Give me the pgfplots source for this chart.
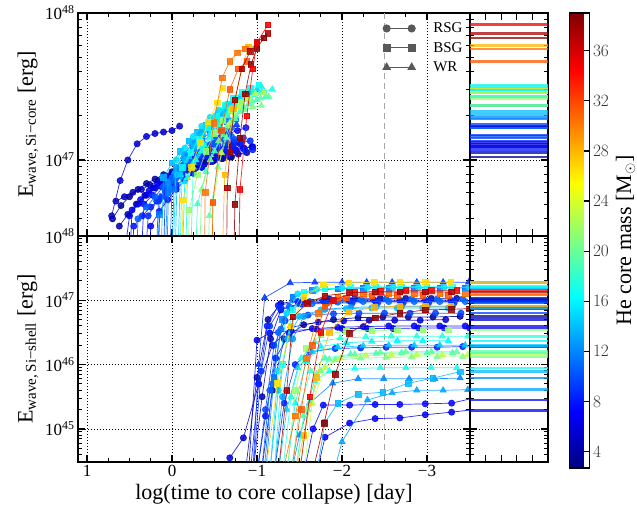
\documentclass[border=0pt]{standalone}
\usepackage{pgfplots}
\pgfplotsset{compat=1.18}
\usepackage{fontspec}
\setmainfont{Liberation Serif}
\newcommand\tickfont{\fontsize{17}{19}\selectfont}
\newcommand\labfont{\fontsize{22}{26}\selectfont}
\newcommand{\defjet}[2]{%
 \pgfmathsetmacro\jv{(#2-2.7)/36.3}%
 \pgfmathsetmacro\jr{max(0,min(1,1.5-abs(4*\jv-3)))}%
 \pgfmathsetmacro\jg{max(0,min(1,1.5-abs(4*\jv-2)))}%
 \pgfmathsetmacro\jb{max(0,min(1,1.5-abs(4*\jv-1)))}%
 \definecolor{#1}{rgb}{\jr,\jg,\jb}}
\defjet{c1}{3.5}\defjet{c2}{4.0}\defjet{c3}{5.5}\defjet{c4}{4.6}\defjet{c5}{6.0}
\defjet{c6}{6.8}\defjet{c7}{7.5}\defjet{c8}{8.5}\defjet{c9}{9.5}\defjet{c10}{10.5}
\defjet{c11}{11.5}\defjet{c12}{12.5}\defjet{c13}{13.0}\defjet{c14}{13.8}\defjet{c15}{14.5}
\defjet{c16}{15.2}\defjet{c17}{16.0}\defjet{c18}{16.8}\defjet{c19}{17.5}\defjet{c20}{18.5}
\defjet{c21}{19.5}\defjet{c22}{20.5}\defjet{c23}{21.5}\defjet{c24}{23.0}\defjet{c25}{26.5}
\defjet{c26}{28.0}\defjet{c27}{30.5}\defjet{c28}{31.5}\defjet{c29}{35.0}\defjet{c30}{37.5}
\defjet{c31}{38.5}\defjet{c32}{7.0}\defjet{c33}{9.0}\defjet{c34}{11.0}\defjet{c35}{14.0}
\defjet{c36}{17.0}\defjet{c37}{8.0}\defjet{c38}{12.0}\defjet{c39}{9.2}
\pgfplotsset{
 frame/.style={scale only axis, anchor=south west, clip marker paths=true,
   axis line style={line width=1.4pt}, tick align=inside,
   major tick length=7pt, minor tick length=4pt,
   major tick style={line width=1.3pt, black}, minor tick style={line width=1pt, black},
   tick label style={font=\tickfont}, label style={font=\labfont},
   major grid style={black, line width=0.7pt, dash pattern=on 1pt off 2pt},
   ymajorgrids},
 mainx/.style={width=392pt, xmin=-3.506, xmax=1.106, x dir=reverse,
   xtick={-3,-2,-1,0,1}, minor x tick num=3, xmajorgrids},
 sidex/.style={width=78pt, xmin=0, xmax=5, xtick={1,2,3,4}, xticklabels={}, yticklabels={}},
 topy/.style={height=223pt, ymin=46.483, ymax=48, ytick={47,48},
   minor ytick={46.602,46.699,46.778,46.845,46.903,46.954,47.301,47.477,47.602,47.699,47.778,47.845,47.903,47.954}},
 boty/.style={height=226pt, ymin=44.485, ymax=48, ytick={45,46,47,48},
   minor ytick={44.602,44.699,44.778,44.845,44.903,44.954,45.301,45.477,45.602,45.699,45.778,45.845,45.903,45.954,46.301,46.477,46.602,46.699,46.778,46.845,46.903,46.954,47.301,47.477,47.602,47.699,47.778,47.845,47.903,47.954}},
 trk/.style={line width=0.7pt, opacity=0.85},
 RSG/.style={trk, mark=*, mark size=3.1pt, mark options={solid, opacity=0.85}},
 BSG/.style={trk, mark=square*, mark size=2.8pt, mark options={solid, opacity=0.85}},
 WR/.style={trk, mark=triangle*, mark size=3.6pt, mark options={solid, opacity=0.85}},
 sl/.style={line width=2.6pt, opacity=0.75},
 vline/.style={black!35, line width=1.1pt, dash pattern=on 6pt off 4pt, forget plot},
}
\begin{document}
\begin{tikzpicture}
\useasboundingbox (0,0) rectangle (637pt,512pt);
% ---------------- top main
\begin{axis}[frame, mainx, topy, at={(78pt,276pt)}, xticklabels={},
  yticklabels={10\textsuperscript{47},10\textsuperscript{48}},
  ylabel={E\textsubscript{\fontsize{15}{16}\selectfont wave,\,Si−core} [erg]},
  legend style={draw=none, fill=none, at={(0.77,0.975)}, anchor=north west,
    font=\fontsize{15}{17}\selectfont, row sep=4pt,
    /tikz/every odd column/.append style={column sep=16pt}},
  legend cell align=left,
  legend image code/.code={\draw[#1] plot coordinates {(0pt,0pt)(25pt,0pt)};}]
\addlegendimage{black!65, line width=0.9pt, mark=*, mark size=3.6pt, mark options={solid}}
\addlegendentry{RSG}
\addlegendimage{black!65, line width=0.9pt, mark=square*, mark size=3.3pt, mark options={solid}}
\addlegendentry{BSG}
\addlegendimage{black!65, line width=0.9pt, mark=triangle*, mark size=4.2pt, mark options={solid}}
\addlegendentry{WR}
\addplot[vline] coordinates {(-2.5,40)(-2.5,50)};
\addplot[RSG,c1] coordinates {(0.70,46.60)(0.60,46.69)(0.50,46.75)(0.40,46.80)(0.30,46.84)(0.20,46.87)(0.10,46.90)(0.00,46.92)(-0.10,46.94)(-0.20,46.96)(-0.30,46.97)(-0.40,46.99)(-0.50,47.00)(-0.60,47.01)(-0.70,47.02)};
\addplot[RSG,c2] coordinates {(0.62,46.55)(0.52,46.63)(0.42,46.70)(0.32,46.76)(0.22,46.81)(0.12,46.85)(0.02,46.88)(-0.08,46.91)(-0.18,46.93)(-0.28,46.95)(-0.38,46.97)(-0.48,46.99)(-0.58,47.01)(-0.68,47.02)(-0.78,47.04)(-0.88,47.05)};
\addplot[RSG,c4] coordinates {(0.66,46.72)(0.56,46.75)(0.46,46.78)(0.36,46.80)(0.26,46.83)(0.16,46.86)(0.06,46.89)(-0.04,46.91)(-0.14,46.94)(-0.24,46.96)(-0.34,46.99)(-0.44,47.01)(-0.54,47.03)(-0.64,47.05)(-0.74,47.07)(-0.84,47.08)(-0.94,47.09)};
\addplot[RSG,c3] coordinates {(0.71,46.62)(0.61,46.86)(0.52,47.00)(0.41,47.11)(0.30,47.16)(0.20,47.18)(0.10,47.19)(0.00,47.20)(-0.09,47.23)};
\addplot[RSG,c5] coordinates {(0.55,46.40)(0.50,46.62)(0.40,46.70)(0.30,46.76)(0.20,46.81)(0.10,46.86)(0.00,46.90)(-0.10,46.94)(-0.20,46.97)(-0.30,47.00)(-0.40,47.03)(-0.50,47.05)(-0.60,47.07)(-0.70,47.09)(-0.80,47.11)};
\addplot[RSG,c6] coordinates {(0.53,45.9)(0.47,46.66)(0.37,46.73)(0.27,46.79)(0.17,46.84)(0.07,46.88)(-0.03,46.92)(-0.13,46.96)(-0.23,47.00)(-0.33,47.03)(-0.43,47.06)(-0.53,47.08)(-0.63,47.10)(-0.73,47.12)};
\addplot[RSG,c32] coordinates {(0.30,45.9)(0.25,46.55)(0.15,46.65)(0.05,46.73)(-0.05,46.80)(-0.15,46.86)(-0.25,46.91)(-0.35,46.95)(-0.45,46.99)(-0.55,47.02)(-0.65,47.05)(-0.75,47.07)(-0.85,47.08)(-0.95,47.09)};
\addplot[RSG,c7] coordinates {(0.40,45.9)(0.33,46.70)(0.23,46.76)(0.13,46.82)(0.03,46.87)(-0.07,46.92)(-0.17,46.97)(-0.27,47.02)(-0.37,47.07)(-0.47,47.11)(-0.57,47.15)(-0.67,47.18)(-0.77,47.20)(-0.87,47.22)};
\addplot[RSG,c37] coordinates {(0.50,45.9)(0.45,46.55)(0.35,46.62)(0.25,46.68)(0.15,46.73)(0.05,46.78)(-0.05,46.83)(-0.15,46.87)(-0.25,46.91)(-0.35,46.95)(-0.45,46.99)(-0.55,47.02)(-0.65,47.04)(-0.75,47.06)(-0.85,47.07)(-0.95,47.07)};
\addplot[RSG,c8] coordinates {(0.35,46.0)(0.28,46.62)(0.18,46.72)(0.08,46.79)(-0.02,46.85)(-0.12,46.90)(-0.22,46.95)(-0.32,46.99)(-0.42,47.03)(-0.52,47.06)(-0.62,47.08)(-0.72,47.10)(-0.82,47.12)(-0.92,47.13)};
\addplot[RSG,c33] coordinates {(0.12,45.9)(0.08,46.75)(-0.02,46.84)(-0.12,46.92)(-0.22,46.99)(-0.32,47.05)(-0.42,47.10)(-0.52,47.14)(-0.62,47.17)};
\addplot[WR,c39] coordinates {(0.18,45.9)(0.14,46.75)(0.04,46.85)(-0.06,46.94)(-0.16,47.02)(-0.26,47.08)(-0.36,47.13)(-0.46,47.17)(-0.56,47.20)(-0.66,47.22)(-0.76,47.24)};
\addplot[RSG,c9] coordinates {(0.22,45.8)(0.16,46.72)(0.06,46.80)(-0.04,46.87)(-0.14,46.93)(-0.24,46.98)(-0.34,47.03)(-0.44,47.07)(-0.54,47.10)(-0.64,47.12)(-0.74,47.14)(-0.84,47.15)};
\addplot[RSG,c10] coordinates {(0.45,45.8)(0.40,46.60)(0.30,46.68)(0.20,46.75)(0.10,46.82)(0.00,46.88)(-0.10,46.94)(-0.20,46.99)(-0.30,47.04)(-0.40,47.08)(-0.50,47.11)(-0.60,47.14)(-0.70,47.16)};
\addplot[RSG,c34] coordinates {(0.05,45.9)(0.00,46.80)(-0.10,46.89)(-0.20,46.97)(-0.30,47.04)(-0.40,47.10)(-0.50,47.15)(-0.60,47.19)(-0.70,47.22)};
\addplot[BSG,c11] coordinates {(0.20,45.9)(0.15,46.63)(0.05,46.78)(-0.05,46.90)(-0.15,47.00)(-0.25,47.08)(-0.35,47.14)(-0.45,47.19)(-0.55,47.23)(-0.65,47.26)(-0.75,47.28)};
\addplot[WR,c38] coordinates {(0.08,45.9)(0.04,46.82)(-0.06,46.93)(-0.16,47.02)(-0.26,47.10)(-0.36,47.17)(-0.46,47.22)(-0.56,47.26)(-0.66,47.29)};
\addplot[RSG,c12] coordinates {(0.10,46.0)(0.05,46.85)(-0.05,46.95)(-0.15,47.04)(-0.25,47.12)(-0.35,47.19)(-0.45,47.25)(-0.55,47.30)(-0.65,47.34)(-0.75,47.37)};
\addplot[WR,c13] coordinates {(0.02,46.0)(-0.03,46.92)(-0.13,47.02)(-0.23,47.11)(-0.33,47.19)(-0.43,47.26)(-0.53,47.32)(-0.63,47.37)(-0.73,47.41)(-0.83,47.44)(-0.93,47.46)};
\addplot[BSG,c14] coordinates {(0.15,46.0)(0.10,46.88)(0.00,46.98)(-0.10,47.06)(-0.20,47.13)(-0.30,47.19)(-0.40,47.24)(-0.50,47.28)(-0.60,47.31)};
\addplot[RSG,c35] coordinates {(-0.02,45.9)(-0.06,46.90)(-0.16,47.00)(-0.26,47.09)(-0.36,47.17)(-0.46,47.24)(-0.56,47.29)(-0.66,47.33)};
\addplot[WR,c15] coordinates {(-0.05,46.0)(-0.10,46.90)(-0.20,47.02)(-0.30,47.12)(-0.40,47.21)(-0.50,47.28)(-0.60,47.34)(-0.70,47.39)(-0.80,47.43)(-0.90,47.46)(-1.00,47.48)};
\addplot[RSG,c16] coordinates {(0.00,46.1)(-0.05,47.00)(-0.15,47.08)(-0.25,47.16)(-0.35,47.23)(-0.45,47.29)(-0.55,47.34)(-0.65,47.38)(-0.75,47.41)(-0.85,47.43)};
\addplot[WR,c17] coordinates {(-0.10,45.9)(-0.15,46.85)(-0.25,46.98)(-0.35,47.09)(-0.45,47.18)(-0.55,47.26)(-0.65,47.33)(-0.75,47.39)(-0.85,47.44)(-0.95,47.47)(-1.05,47.50)};
\addplot[BSG,c18] coordinates {(-0.08,46.0)(-0.12,46.95)(-0.22,47.05)(-0.32,47.14)(-0.42,47.22)(-0.52,47.30)(-0.62,47.37)(-0.72,47.42)(-0.82,47.46)(-0.92,47.49)(-1.02,47.51)};
\addplot[WR,c36] coordinates {(-0.15,45.9)(-0.18,46.88)(-0.28,47.00)(-0.38,47.10)(-0.48,47.19)(-0.58,47.27)(-0.68,47.33)(-0.78,47.38)(-0.88,47.42)(-0.98,47.45)(-1.08,47.47)(-1.18,47.48)};
\addplot[WR,c19] coordinates {(-0.20,45.9)(-0.25,46.95)(-0.35,47.06)(-0.45,47.15)(-0.55,47.23)(-0.65,47.30)(-0.75,47.36)(-0.85,47.41)(-0.95,47.44)(-1.05,47.46)};
\addplot[WR,c20] coordinates {(-0.25,45.9)(-0.30,46.70)(-0.40,46.92)(-0.50,47.06)(-0.60,47.17)(-0.70,47.26)(-0.80,47.33)(-0.90,47.38)(-1.00,47.41)(-1.10,47.43)};
\addplot[WR,c21] coordinates {(-0.40,45.9)(-0.44,46.62)(-0.54,46.95)(-0.64,47.15)(-0.74,47.28)(-0.84,47.36)(-0.94,47.40)(-1.04,47.42)(-1.14,47.43)};
\addplot[WR,c22] coordinates {(-0.30,45.9)(-0.35,46.80)(-0.45,47.00)(-0.55,47.13)(-0.65,47.23)(-0.75,47.30)(-0.85,47.34)(-0.95,47.36)(-1.05,47.37)};
\addplot[BSG,c23] coordinates {(-0.19,45.9)(-0.20,46.66)(-0.30,46.90)(-0.40,47.06)(-0.50,47.18)(-0.60,47.27)(-0.70,47.34)(-0.80,47.39)(-0.90,47.42)};
\addplot[WR,c24] coordinates {(-0.45,45.9)(-0.48,46.70)(-0.58,47.05)(-0.68,47.25)(-0.78,47.36)(-0.88,47.42)(-0.98,47.45)(-1.08,47.46)};
\addplot[BSG,c25] coordinates {(-0.10,45.9)(-0.13,46.73)(-0.23,46.95)(-0.33,47.12)(-0.43,47.26)(-0.53,47.39)(-0.60,47.49)};
\addplot[BSG,c26] coordinates {(-0.55,45.5)(-0.62,46.90)(-0.72,47.35)(-0.82,47.62)(-0.90,47.77)(-1.00,47.78)};
\addplot[BSG,c27] coordinates {(-0.37,45.5)(-0.39,46.78)(-0.49,47.25)(-0.59,47.56)(-0.68,47.67)(-0.77,47.73)(-0.86,47.755)};
\addplot[BSG,c28] coordinates {(-0.46,45.5)(-0.48,46.71)(-0.58,47.20)(-0.68,47.48)(-0.78,47.62)(-0.88,47.67)};
\addplot[BSG,c30] coordinates {(-0.63,45.5)(-0.65,46.81)(-0.68,47.05)(-0.74,47.41)(-0.82,47.62)(-0.92,47.74)(-1.00,47.80)(-1.13,47.86)};
\addplot[BSG,c31] coordinates {(-0.70,45.5)(-0.74,46.70)(-0.80,47.15)(-0.86,47.45)(-0.93,47.65)(-1.00,47.76)(-1.08,47.83)};
\addplot[BSG,c29] coordinates {(-0.76,45.5)(-0.80,46.80)(-0.88,47.30)(-0.95,47.62)(-1.00,47.80)(-1.13,47.92)};
\end{axis}
% ---------------- top side
\begin{axis}[frame, sidex, topy, at={(470pt,276pt)}]
\addplot[sl,c1] coordinates {(0,47.02)(5,47.02)};
\addplot[sl,c2] coordinates {(0,47.05)(5,47.05)};
\addplot[sl,c4] coordinates {(0,47.09)(5,47.09)};
\addplot[sl,c37] coordinates {(0,47.07)(5,47.07)};
\addplot[sl,c32] coordinates {(0,47.09)(5,47.09)};
\addplot[sl,c5] coordinates {(0,47.11)(5,47.11)};
\addplot[sl,c6] coordinates {(0,47.12)(5,47.12)};
\addplot[sl,c8] coordinates {(0,47.13)(5,47.13)};
\addplot[sl,c9] coordinates {(0,47.15)(5,47.15)};
\addplot[sl,c10] coordinates {(0,47.16)(5,47.16)};
\addplot[sl,c33] coordinates {(0,47.17)(5,47.17)};
\addplot[sl,c7] coordinates {(0,47.22)(5,47.22)};
\addplot[sl,c34] coordinates {(0,47.22)(5,47.22)};
\addplot[sl,c3] coordinates {(0,47.23)(5,47.23)};
\addplot[sl,c39] coordinates {(0,47.24)(5,47.24)};
\addplot[sl,c11] coordinates {(0,47.28)(5,47.28)};
\addplot[sl,c38] coordinates {(0,47.29)(5,47.29)};
\addplot[sl,c14] coordinates {(0,47.31)(5,47.31)};
\addplot[sl,c35] coordinates {(0,47.33)(5,47.33)};
\addplot[sl,c12] coordinates {(0,47.37)(5,47.37)};
\addplot[sl,c22] coordinates {(0,47.37)(5,47.37)};
\addplot[sl,c23] coordinates {(0,47.42)(5,47.42)};
\addplot[sl,c16] coordinates {(0,47.43)(5,47.43)};
\addplot[sl,c20] coordinates {(0,47.43)(5,47.43)};
\addplot[sl,c21] coordinates {(0,47.43)(5,47.43)};
\addplot[sl,c13] coordinates {(0,47.46)(5,47.46)};
\addplot[sl,c19] coordinates {(0,47.46)(5,47.46)};
\addplot[sl,c24] coordinates {(0,47.46)(5,47.46)};
\addplot[sl,c15] coordinates {(0,47.48)(5,47.48)};
\addplot[sl,c36] coordinates {(0,47.48)(5,47.48)};
\addplot[sl,c25] coordinates {(0,47.49)(5,47.49)};
\addplot[sl,c17] coordinates {(0,47.50)(5,47.50)};
\addplot[sl,c18] coordinates {(0,47.51)(5,47.51)};
\addplot[sl,c28] coordinates {(0,47.67)(5,47.67)};
\addplot[sl,c27] coordinates {(0,47.755)(5,47.755)};
\addplot[sl,c26] coordinates {(0,47.78)(5,47.78)};
\addplot[sl,c31] coordinates {(0,47.83)(5,47.83)};
\addplot[sl,c30] coordinates {(0,47.86)(5,47.86)};
\addplot[sl,c29] coordinates {(0,47.92)(5,47.92)};
\end{axis}
% ---------------- bottom main
\begin{axis}[frame, mainx, boty, at={(78pt,50pt)},
  xticklabels={−3,−2,−1,0,1},
  yticklabels={10\textsuperscript{45},10\textsuperscript{46},10\textsuperscript{47},10\textsuperscript{48}},
  xlabel={log(time to core collapse) [day]},
  ylabel={E\textsubscript{\fontsize{15}{16}\selectfont wave,\,Si−shell} [erg]}]
\addplot[vline] coordinates {(-2.5,40)(-2.5,50)};
\addplot[RSG,c1] coordinates {(-1.05,44.3)(-1.18,45.6)(-1.32,46.40)(-1.55,46.62)(-1.90,46.70)(-2.19,46.73)(-2.48,46.74)(-2.78,46.74)(-3.07,46.74)(-3.39,46.75)};
\addplot[RSG,c2] coordinates {(-0.86,44.3)(-1.0,45.8)(-1.13,46.70)(-1.28,46.95)(-1.55,47.01)(-1.85,47.02)(-2.15,47.03)(-2.45,47.03)(-2.75,47.03)(-3.05,47.03)(-3.35,47.03)};
\addplot[RSG,c3] coordinates {(-0.68,44.55)(-0.84,44.86)(-1.02,45.70)(-1.18,46.30)(-1.40,46.58)(-1.72,46.66)(-2.02,46.68)(-2.32,46.69)(-2.62,46.69)(-2.92,46.69)(-3.22,46.70)};
\addplot[RSG,c4] coordinates {(-0.95,44.3)(-1.06,45.50)(-1.16,46.40)(-1.28,46.85)(-1.50,46.95)(-1.80,46.97)(-2.10,46.98)(-2.40,46.98)(-2.70,46.98)(-3.00,46.98)(-3.30,46.98)};
\addplot[RSG,c5] coordinates {(-0.90,44.3)(-1.00,46.38)(-1.15,46.49)(-1.40,46.53)(-1.70,46.55)(-2.00,46.56)(-2.30,46.56)(-2.60,46.56)(-2.90,46.57)(-3.20,46.57)(-3.50,46.57)};
\addplot[RSG,c6] coordinates {(-1.70,44.3)(-1.80,44.87)(-2.09,45.09)(-2.39,45.16)(-2.68,45.17)(-2.98,45.22)(-3.29,45.26)(-3.55,45.30)};
\addplot[RSG,c7] coordinates {(-1.55,44.3)(-1.66,45.00)(-1.78,45.37)(-2.09,45.37)(-2.39,45.38)(-2.68,45.38)(-2.98,45.39)(-3.29,45.40)(-3.55,45.48)};
\addplot[RSG,c32] coordinates {(-1.00,44.3)(-1.10,45.20)(-1.22,46.10)(-1.38,46.48)(-1.65,46.56)(-1.95,46.58)(-2.25,46.59)(-2.55,46.60)(-2.85,46.60)(-3.15,46.60)(-3.45,46.60)};
\addplot[RSG,c37] coordinates {(-0.92,44.3)(-1.02,45.70)(-1.12,46.60)(-1.25,46.92)(-1.48,46.98)(-1.78,46.99)(-2.08,47.00)(-2.38,47.00)(-2.68,47.00)(-2.98,47.00)(-3.28,47.00)};
\addplot[RSG,c8] coordinates {(-1.20,44.3)(-1.32,45.40)(-1.45,46.00)(-1.62,46.20)(-1.92,46.25)(-2.22,46.26)(-2.52,46.27)(-2.82,46.27)(-3.12,46.27)(-3.42,46.28)};
\addplot[RSG,c33] coordinates {(-0.95,44.3)(-1.05,45.90)(-1.15,46.60)(-1.28,46.88)(-1.52,46.94)(-1.82,46.95)(-2.12,46.96)(-2.42,46.96)(-2.72,46.96)(-3.02,46.96)(-3.32,46.96)};
\addplot[WR,c39] coordinates {(-0.95,44.3)(-1.02,46.0)(-1.09,47.04)(-1.39,47.27)(-1.68,47.28)(-2.00,47.28)(-2.29,47.28)(-2.59,47.28)(-2.88,47.28)(-3.19,47.28)(-3.49,47.28)};
\addplot[RSG,c9] coordinates {(-1.00,44.3)(-1.10,45.30)(-1.20,46.30)(-1.33,46.68)(-1.60,46.77)(-1.90,46.79)(-2.20,46.80)(-2.50,46.80)(-2.80,46.80)(-3.10,46.80)(-3.40,46.80)};
\addplot[RSG,c10] coordinates {(-1.05,44.3)(-1.15,45.60)(-1.25,46.50)(-1.38,46.90)(-1.62,46.98)(-1.92,47.00)(-2.22,47.01)(-2.52,47.02)(-2.82,47.02)(-3.12,47.02)(-3.42,47.02)};
\addplot[RSG,c34] coordinates {(-1.08,44.3)(-1.18,45.70)(-1.28,46.55)(-1.40,46.88)(-1.65,46.95)(-1.95,46.97)(-2.25,46.98)(-2.55,46.98)(-2.85,46.98)(-3.15,46.98)(-3.45,46.98)};
\addplot[BSG,c11] coordinates {(-1.10,44.3)(-1.20,45.80)(-1.30,46.70)(-1.42,47.05)(-1.65,47.15)(-1.95,47.18)(-2.25,47.19)(-2.55,47.19)(-2.85,47.19)(-3.15,47.19)(-3.45,47.19)};
\addplot[WR,c38] coordinates {(-1.40,44.3)(-1.50,44.9)(-1.62,45.40)(-1.89,45.71)(-2.19,45.78)(-2.49,45.78)(-2.79,45.78)(-3.09,45.78)(-3.39,45.79)};
\addplot[RSG,c12] coordinates {(-1.20,44.3)(-1.30,45.50)(-1.42,46.40)(-1.55,46.75)(-1.80,46.86)(-2.10,46.89)(-2.40,46.90)(-2.70,46.90)(-3.00,46.90)(-3.30,46.90)};
\addplot[WR,c13] coordinates {(-1.90,44.3)(-2.00,44.80)(-2.30,45.45)(-2.59,45.56)(-2.88,45.60)(-3.19,45.60)(-3.48,45.61)};
\addplot[BSG,c14] coordinates {(-1.70,44.3)(-1.80,45.10)(-1.95,45.40)(-2.19,45.54)(-2.48,45.57)(-2.78,45.71)(-3.07,45.79)(-3.39,45.89)};
\addplot[RSG,c35] coordinates {(-1.15,44.3)(-1.25,45.60)(-1.36,46.40)(-1.50,46.75)(-1.75,46.85)(-2.05,46.87)(-2.35,46.88)(-2.65,46.88)(-2.95,46.88)(-3.25,46.88)};
\addplot[WR,c15] coordinates {(-1.25,44.3)(-1.35,45.30)(-1.48,45.95)(-1.65,46.20)(-1.95,46.27)(-2.25,46.29)(-2.55,46.30)(-2.85,46.30)(-3.15,46.30)(-3.45,46.30)};
\addplot[RSG,c16] coordinates {(-1.15,44.3)(-1.25,45.90)(-1.35,46.80)(-1.48,47.10)(-1.70,47.17)(-2.00,47.19)(-2.30,47.20)(-2.60,47.20)(-2.90,47.20)(-3.20,47.20)(-3.50,47.20)};
\addplot[WR,c17] coordinates {(-1.35,44.3)(-1.45,45.40)(-1.58,46.05)(-1.75,46.28)(-2.05,46.34)(-2.35,46.36)(-2.65,46.37)(-2.95,46.37)(-3.25,46.37)};
\addplot[BSG,c18] coordinates {(-1.20,44.3)(-1.30,46.00)(-1.42,46.85)(-1.55,47.12)(-1.80,47.18)(-2.10,47.20)(-2.40,47.21)(-2.70,47.21)(-3.00,47.21)(-3.30,47.21)};
\addplot[WR,c36] coordinates {(-1.45,44.3)(-1.55,45.20)(-1.68,45.75)(-1.85,45.90)(-2.15,45.94)(-2.45,45.95)(-2.75,45.95)(-3.05,45.95)(-3.35,45.95)};
\addplot[WR,c19] coordinates {(-1.30,44.3)(-1.40,45.50)(-1.52,46.10)(-1.68,46.35)(-1.98,46.41)(-2.28,46.43)(-2.58,46.44)(-2.88,46.44)(-3.18,46.44)(-3.48,46.44)};
\addplot[WR,c20] coordinates {(-1.40,44.3)(-1.50,45.30)(-1.63,45.90)(-1.80,46.10)(-2.10,46.16)(-2.40,46.17)(-2.70,46.18)(-3.00,46.18)(-3.30,46.18)};
\addplot[WR,c21] coordinates {(-1.45,44.3)(-1.55,45.20)(-1.70,45.85)(-1.85,46.08)(-2.15,46.16)(-2.45,46.19)(-2.75,46.20)(-3.05,46.20)(-3.35,46.20)};
\addplot[WR,c22] coordinates {(-1.50,44.3)(-1.60,45.30)(-1.75,45.90)(-1.92,46.07)(-2.22,46.10)(-2.52,46.11)(-2.82,46.12)(-3.12,46.12)(-3.42,46.12)};
\addplot[BSG,c23] coordinates {(-1.35,44.3)(-1.45,45.60)(-1.58,46.25)(-1.75,46.46)(-2.05,46.52)(-2.35,46.53)(-2.65,46.54)(-2.95,46.54)(-3.25,46.54)};
\addplot[WR,c24] coordinates {(-1.55,44.3)(-1.65,45.40)(-1.80,45.95)(-1.98,46.10)(-2.28,46.14)(-2.58,46.15)(-2.88,46.15)(-3.18,46.15)(-3.48,46.15)};
\addplot[BSG,c25] coordinates {(-1.10,44.3)(-1.24,45.71)(-1.40,46.60)(-1.55,47.05)(-1.78,47.24)(-2.08,47.27)(-2.38,47.28)(-2.68,47.28)(-2.98,47.28)(-3.28,47.28)};
\addplot[BSG,c26] coordinates {(-1.45,44.3)(-1.55,44.90)(-1.70,45.80)(-1.85,46.50)(-2.08,46.82)(-2.38,46.89)(-2.68,46.91)(-2.98,46.91)(-3.28,46.91)};
\addplot[BSG,c27] coordinates {(-1.30,44.3)(-1.45,45.20)(-1.58,46.10)(-1.72,46.80)(-1.95,47.05)(-2.25,47.09)(-2.55,47.10)(-2.85,47.10)(-3.15,47.10)(-3.45,47.10)};
\addplot[BSG,c28] coordinates {(-1.40,44.3)(-1.52,45.30)(-1.65,46.30)(-1.80,46.90)(-2.05,47.04)(-2.35,47.07)(-2.65,47.08)(-2.95,47.08)(-3.25,47.08)};
\addplot[BSG,c29] coordinates {(-1.50,44.3)(-1.62,45.50)(-1.75,46.50)(-1.90,47.00)(-2.15,47.12)(-2.45,47.14)(-2.75,47.15)(-3.05,47.15)(-3.35,47.15)};
\addplot[BSG,c30] coordinates {(-1.25,44.3)(-1.35,45.60)(-1.42,46.74)(-1.59,46.95)(-1.80,47.07)(-2.09,47.12)(-2.39,47.13)(-2.68,47.13)(-2.98,47.13)(-3.29,47.13)};
\addplot[BSG,c31] coordinates {(-1.65,44.3)(-1.79,45.09)(-1.92,45.85)(-2.09,46.49)(-2.39,46.73)(-2.68,46.80)(-2.98,46.85)(-3.29,46.86)(-3.50,46.87)};
\end{axis}
% ---------------- bottom side + colorbar
\begin{axis}[frame, sidex, boty, at={(470pt,50pt)},
  colormap/jet, point meta min=2.7, point meta max=39, colorbar,
  colorbar style={at={(parent axis.south east)}, anchor=south west, xshift=13pt, yshift=-6pt,
    scale only axis, width=20pt, height=455pt, ytick={4,8,...,36}, xtick=\empty,
    ytick pos=right, yticklabel pos=right, tick align=inside, major tick length=6pt,
    major tick style={black, line width=1.3pt}, axis line style={line width=1.3pt},
    yticklabel style={font=\tickfont, text=black!80},
    ylabel={He core mass [M$_\odot$]}, ylabel style={font=\labfont}}]
\addplot[sl,c6] coordinates {(0,45.29)(5,45.29)};
\addplot[sl,c7] coordinates {(0,45.45)(5,45.45)};
\addplot[sl,c13] coordinates {(0,45.61)(5,45.61)};
\addplot[sl,c38] coordinates {(0,45.79)(5,45.79)};
\addplot[sl,c14] coordinates {(0,45.89)(5,45.89)};
\addplot[sl,c36] coordinates {(0,45.95)(5,45.95)};
\addplot[sl,c22] coordinates {(0,46.12)(5,46.12)};
\addplot[sl,c24] coordinates {(0,46.15)(5,46.15)};
\addplot[sl,c20] coordinates {(0,46.18)(5,46.18)};
\addplot[sl,c21] coordinates {(0,46.20)(5,46.20)};
\addplot[sl,c8] coordinates {(0,46.28)(5,46.28)};
\addplot[sl,c15] coordinates {(0,46.30)(5,46.30)};
\addplot[sl,c17] coordinates {(0,46.37)(5,46.37)};
\addplot[sl,c19] coordinates {(0,46.44)(5,46.44)};
\addplot[sl,c23] coordinates {(0,46.54)(5,46.54)};
\addplot[sl,c5] coordinates {(0,46.57)(5,46.57)};
\addplot[sl,c32] coordinates {(0,46.60)(5,46.60)};
\addplot[sl,c3] coordinates {(0,46.70)(5,46.70)};
\addplot[sl,c1] coordinates {(0,46.75)(5,46.75)};
\addplot[sl,c9] coordinates {(0,46.80)(5,46.80)};
\addplot[sl,c31] coordinates {(0,46.87)(5,46.87)};
\addplot[sl,c35] coordinates {(0,46.88)(5,46.88)};
\addplot[sl,c12] coordinates {(0,46.90)(5,46.90)};
\addplot[sl,c26] coordinates {(0,46.91)(5,46.91)};
\addplot[sl,c33] coordinates {(0,46.96)(5,46.96)};
\addplot[sl,c4] coordinates {(0,46.98)(5,46.98)};
\addplot[sl,c34] coordinates {(0,46.98)(5,46.98)};
\addplot[sl,c37] coordinates {(0,47.00)(5,47.00)};
\addplot[sl,c10] coordinates {(0,47.02)(5,47.02)};
\addplot[sl,c2] coordinates {(0,47.03)(5,47.03)};
\addplot[sl,c28] coordinates {(0,47.08)(5,47.08)};
\addplot[sl,c27] coordinates {(0,47.10)(5,47.10)};
\addplot[sl,c30] coordinates {(0,47.13)(5,47.13)};
\addplot[sl,c29] coordinates {(0,47.15)(5,47.15)};
\addplot[sl,c11] coordinates {(0,47.19)(5,47.19)};
\addplot[sl,c16] coordinates {(0,47.20)(5,47.20)};
\addplot[sl,c18] coordinates {(0,47.21)(5,47.21)};
\addplot[sl,c39] coordinates {(0,47.28)(5,47.28)};
\addplot[sl,c25] coordinates {(0,47.28)(5,47.28)};
\end{axis}
\end{tikzpicture}
\end{document}
